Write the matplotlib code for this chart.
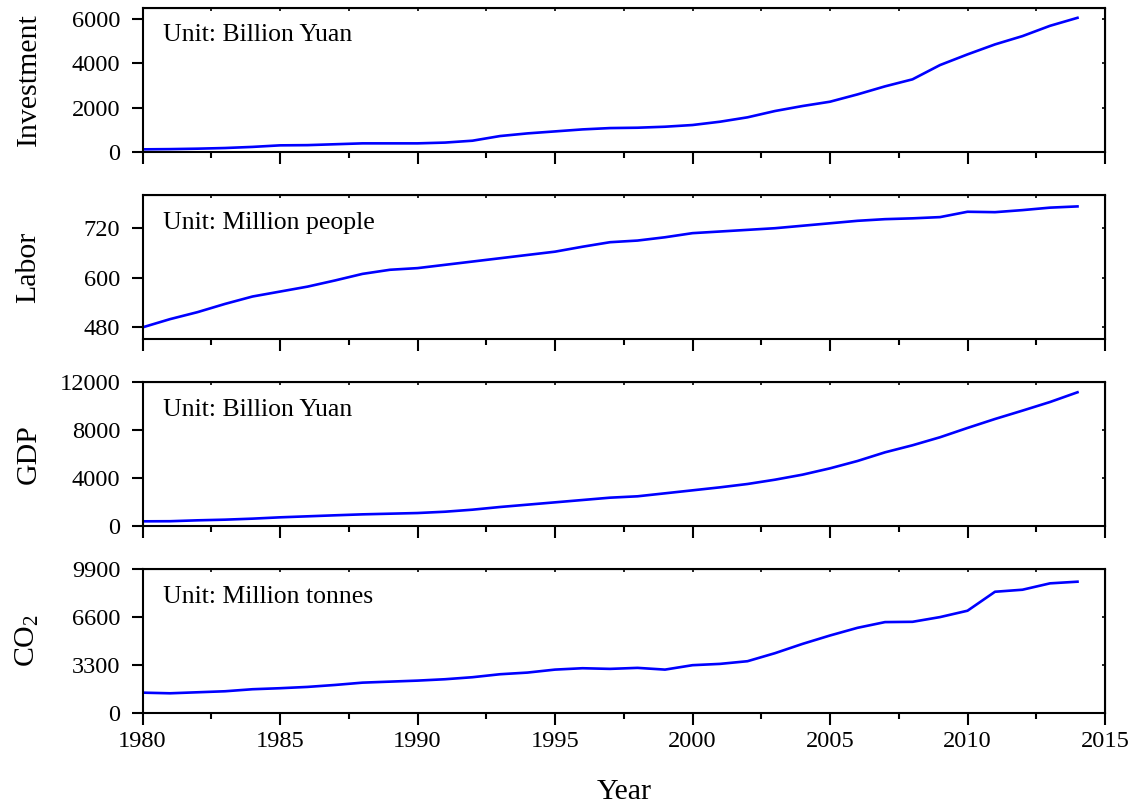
import matplotlib
matplotlib.use("Agg")
import matplotlib.pyplot as plt
from matplotlib.ticker import MultipleLocator

plt.rcParams['font.family'] = ['Liberation Serif', 'DejaVu Serif']
plt.rcParams['mathtext.fontset'] = 'custom'
plt.rcParams['mathtext.rm'] = 'Liberation Serif'
plt.rcParams['mathtext.it'] = 'Liberation Serif:italic'

years = list(range(1980, 2015))

investment = [120, 130, 150, 180, 230, 300, 310, 350, 390, 390,
              390, 425, 510, 720, 840, 930, 1020, 1080, 1096, 1141,
              1218, 1367, 1565, 1850, 2075, 2270, 2600, 2963, 3280, 3924,
              4406, 4857, 5232, 5696, 6057]

labor = [479, 499, 516, 536, 554, 566, 578, 593, 609, 619,
         623, 631, 639, 647, 655, 663, 675, 686, 690, 698,
         708, 712, 716, 720, 726, 732, 738, 742, 744, 747,
         760, 759, 764, 770, 773]

gdp = [366, 375, 450, 505, 590, 700, 785, 870, 950, 1005,
       1060, 1170, 1340, 1565, 1760, 1955, 2150, 2345, 2460, 2710,
       2960, 3210, 3490, 3850, 4270, 4800, 5415, 6140, 6730, 7400,
       8180, 8930, 9630, 10350, 11165]

co2 = [1384, 1340, 1410, 1480, 1620, 1690, 1780, 1915, 2075, 2145,
       2215, 2310, 2450, 2655, 2770, 2975, 3070, 3025, 3095, 2975,
       3280, 3370, 3555, 4110, 4750, 5330, 5860, 6255, 6275, 6600,
       7040, 8350, 8490, 8930, 9045]

names = ["Investment", "Labor", "GDP", "CO$_2$"]
units = ["Unit: Billion Yuan", "Unit: Million people", "Unit: Billion Yuan",
         "Unit: Million tonnes"]
series = [investment, labor, gdp, co2]
ylims = [(0, 6500), (450, 800), (0, 12000), (0, 9900)]
yticks_all = [[0, 2000, 4000, 6000], [480, 600, 720],
              [0, 4000, 8000, 12000], [0, 3300, 6600, 9900]]

W, H = 1140, 807
fig = plt.figure(figsize=(W / 100, H / 100), dpi=100)

left, right = 142.5 / W, 1105 / W
tops = [8, 195.3, 382.3, 569.3]
bottoms = [152, 339.3, 525.7, 712.7]

tick_fs = 17.6
for i in range(4):
    b = 1 - bottoms[i] / H
    h = (bottoms[i] - tops[i]) / H
    ax = fig.add_axes([left, b, right - left, h])
    ax.plot(years, series[i], color='#0000FF', lw=1.9)
    ax.set_xlim(1980, 2015)
    ax.set_ylim(*ylims[i])
    ax.set_yticks(yticks_all[i])
    ax.xaxis.set_major_locator(MultipleLocator(5))
    ax.xaxis.set_minor_locator(MultipleLocator(2.5))
    for s in ax.spines.values():
        s.set_linewidth(1.5)
    ax.tick_params(axis='x', which='major', direction='out', length=8.5, width=1.5,
                   labelsize=tick_fs, pad=4.5, top=False)
    ax.tick_params(axis='x', which='minor', direction='out', length=4.5, width=1.5, top=False)
    ax.tick_params(axis='y', which='major', direction='out', length=8, width=1.5,
                   labelsize=tick_fs, pad=8, right=False)
    if i < 3:
        ax.tick_params(axis='x', labelbottom=False)

    # inward mirror ticks on the top and right edges
    sx = ax.secondary_xaxis('top')
    sx.xaxis.set_major_locator(MultipleLocator(5))
    sx.xaxis.set_minor_locator(MultipleLocator(2.5))
    sx.tick_params(which='both', direction='in', length=2.5, width=1.2, labeltop=False)
    sy = ax.secondary_yaxis('right')
    sy.set_yticks(yticks_all[i])
    sy.tick_params(which='both', direction='in', length=2.5, width=1.2, labelright=False)

    ax.text(0.021, 0.81, units[i], transform=ax.transAxes, fontsize=18.5,
            ha='left', va='center')
    ax.set_ylabel(names[i], fontsize=21.5)
    ax.yaxis.set_label_coords(-0.105, 0.5)

fig.text((left + right) / 2, 1 - 792 / H, "Year", fontsize=21.5, ha='center', va='center')

fig.savefig("out.png", dpi=100)
